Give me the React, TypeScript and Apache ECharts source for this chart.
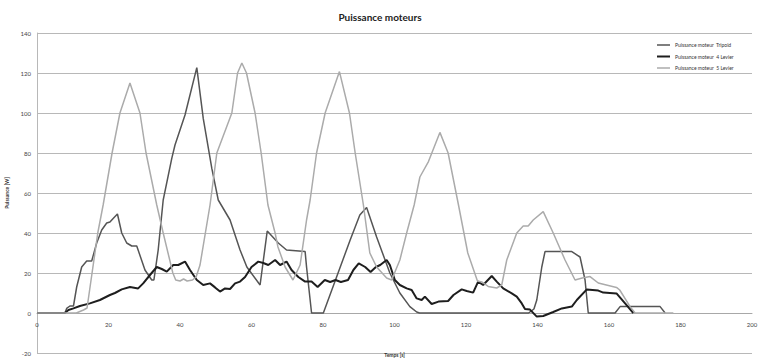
import React, { useEffect, useRef } from "react";
import * as echarts from "echarts";

const seriesNames = ["Puissance moteur  Tripoid", "Puissance moteur  4 Levier", "Puissance moteur  5 Levier"];

const tripoidX = [0, 7.8, 8.3, 9.2, 10.2, 11.1, 12.5, 13.9, 15.3, 16.7, 18.1, 19.5, 20.4, 21.3, 22.5, 23.7, 25.1, 26.5, 27.9, 30.2, 32.1, 32.7, 33.9, 35.3, 37.7, 38.6, 41.4, 44.7, 46.5, 48.9, 50.7, 54, 56.8, 58.7, 62.4, 64.4, 67.5, 69.8, 75, 75.4, 76.8, 80.1, 83.8, 87.6, 90.3, 92.2, 95, 98.7, 101.5, 104.3, 106.2, 107, 137.5, 139, 139.8, 141.2, 142.1, 149.6, 151.9, 153.3, 154.2, 161.7, 163.1, 174.3, 175.7];
const tripoidY = [0, 0, 2.3, 3.5, 3.5, 13, 23, 26, 26, 35, 41.5, 45, 45.5, 47.3, 49.5, 40, 35, 33.5, 33.5, 21.5, 16.5, 16.5, 31.5, 56.5, 77.3, 84, 99, 122.7, 97.3, 72.3, 56.5, 46.5, 31.5, 23, 14, 41, 35, 31.5, 30.7, 23, 0, 0, 18, 36.5, 49, 52.8, 38, 20, 10, 3.2, 0.5, 0, 0, 2, 6.5, 23, 30.7, 30.7, 28, 16.5, 0, 0, 3.2, 3.2, 0];

const levier4X = [0, 7.8, 8.8, 10.2, 12, 14.8, 17.6, 20.4, 21.8, 23.7, 26, 28.3, 29.7, 31.6, 33.5, 34.9, 36.3, 38.1, 39.5, 41.4, 42.8, 44.7, 46.5, 48.4, 49.8, 51.2, 52.6, 54, 55.4, 56.8, 58.2, 60, 61.9, 63.3, 64.7, 66.6, 68, 69.8, 71.2, 73.1, 75, 76.8, 78.5, 80.5, 82, 83.5, 85, 87, 88.5, 90, 91.8, 93.3, 94.8, 96, 97.8, 98.7, 100.1, 101.5, 103.4, 104.8, 106.2, 107.6, 108.5, 110.4, 112.3, 115, 116.5, 118.8, 120.2, 122, 123.4, 124.8, 127.2, 128.6, 130.4, 132.8, 134.2, 135.6, 136.5, 137.9, 139.8, 141.6, 144.4, 146.8, 149.6, 151, 153.8, 157, 158.4, 162.1, 164.5, 166.8];
const levier4Y = [0, 0, 1.5, 2.3, 3.5, 4.8, 6.5, 9, 10, 11.8, 13, 12.3, 14.8, 19, 23, 22, 20.7, 24, 24, 25.7, 21.5, 16.5, 14, 14.8, 12.8, 10.7, 12.3, 12, 14.8, 15.7, 18, 23, 25.7, 25, 24, 26.5, 24, 25.7, 21.5, 18, 15.7, 15.7, 13, 16.5, 15.5, 16.5, 15.5, 16.5, 21.5, 24.8, 23, 20.5, 23, 24, 26.5, 24, 16.5, 14, 12.3, 11.5, 7.3, 6.5, 8.2, 4.5, 5.7, 6, 9, 11.8, 11, 10.2, 15.7, 14, 18.5, 15.7, 12.3, 9.8, 8.2, 4.8, 2, 1.7, -1.8, -1.5, 0.5, 2.3, 3.2, 6.5, 11.8, 11.2, 10.2, 9.8, 4.8, 0];

const levier5X = [0, 11, 13, 14, 15.4, 17, 18.5, 21, 23.2, 26, 28.8, 30.5, 33.5, 35.3, 38, 38.8, 40, 41, 42, 43.5, 44.5, 45.6, 48.4, 50.3, 54.5, 56.1, 57.3, 58.6, 61, 62.7, 64.6, 66.6, 67.4, 69.4, 71.6, 73.6, 75.4, 76.4, 78.2, 80.6, 84.6, 87.4, 89, 91.3, 93.1, 95, 97.8, 99.2, 101.5, 103.4, 105.5, 107.1, 109.5, 112.7, 115, 117.9, 120.5, 123.2, 124.5, 126.2, 128.6, 130, 131.4, 134.2, 136, 137.4, 138.8, 141.6, 144.4, 147.7, 150.5, 152.5, 154.7, 157, 162.1, 163, 165.9, 167.3, 178];
const levier5Y = [0, 0, 1.5, 2.5, 20, 40, 54, 80, 100, 115, 100, 80, 54, 40, 20, 16.5, 16, 17, 16, 16.5, 18, 24, 54, 80, 100, 120, 125, 120, 100, 80, 54, 40, 33, 23, 16.5, 24, 46.5, 56.5, 80, 100, 120.7, 100, 80, 54, 30, 23, 17.5, 16.5, 26.5, 40, 54, 68, 75.7, 90.3, 80, 54, 30, 16, 15.5, 13.3, 12.5, 14, 26.5, 40, 43.5, 43.5, 46.5, 50.7, 40, 26.5, 16.5, 17.5, 18.2, 15, 12.8, 11.5, 3.2, 0, 0];

const zip = (xs: number[], ys: number[]) => xs.map((x, i) => [x, ys[i]]);

const FONT = "Lato";

export default function App() {
  const ref = useRef<HTMLDivElement>(null);
  useEffect(() => {
    if (!ref.current) return;
    const chart = echarts.init(ref.current, null, { renderer: "svg" });
    const colors = ["#555555", "#1e1e1e", "#ababab"];
    const widths = [1.5, 2, 1.5];
    const datas = [zip(tripoidX, tripoidY), zip(levier4X, levier4Y), zip(levier5X, levier5Y)];
    chart.setOption({
      animation: false,
      backgroundColor: "#ffffff",
      textStyle: { fontFamily: FONT },
      title: {
        text: "Puissance moteurs",
        left: "center",
        top: 7,
        textStyle: { fontFamily: FONT, fontSize: 10, fontWeight: "bold", color: "#222" },
      },
      legend: {
        orient: "vertical",
        left: 652,
        top: 37,
        itemWidth: 13,
        itemHeight: 6,
        itemGap: 5.5,
        textStyle: { fontFamily: FONT, fontSize: 5, color: "#333", lineHeight: 6 },
        data: seriesNames.map((name, i) => ({
          name,
          icon: `path://M0,0L26,0L26,${widths[i] * 2}L0,${widths[i] * 2}Z`,
          itemStyle: { color: colors[i] },
        })),
      },
      grid: { left: 37, right: 8, top: 33, bottom: 7, containLabel: false, outerBoundsMode: "none" },
      xAxis: {
        type: "value",
        min: 0,
        max: 200,
        interval: 20,
        offset: -40,
        name: "Temps [s]",
        nameLocation: "middle",
        nameGap: 39,
        nameTextStyle: { fontFamily: FONT, fontSize: 5, fontWeight: "bold", color: "#333" },
        axisLine: { onZero: false, lineStyle: { color: "#a8a8a8", width: 1 } },
        axisTick: { show: false },
        axisLabel: { fontFamily: FONT, fontSize: 6, color: "#444", margin: 8 },
        splitLine: { show: false },
      },
      yAxis: {
        type: "value",
        min: -20,
        max: 140,
        interval: 20,
        name: "Puissance [W]",
        nameLocation: "middle",
        nameRotate: 90,
        nameGap: 15,
        nameTextStyle: { fontFamily: FONT, fontSize: 5, fontWeight: "bold", color: "#333" },
        axisLine: { show: true, onZero: false, lineStyle: { color: "#b8b8b8", width: 1 } },
        axisTick: { show: false },
        axisLabel: { fontFamily: FONT, fontSize: 6, color: "#444", margin: 6 },
        splitLine: { show: true, lineStyle: { color: "#b8b8b8", width: 1, type: "solid" } },
      },
      series: seriesNames.map((name, i) => ({
        name,
        type: "line",
        data: datas[i],
        symbol: "none",
        showSymbol: false,
        color: colors[i],
        lineStyle: { color: colors[i], width: widths[i] },
        z: 2 + i,
      })),
    });
    return () => chart.dispose();
  }, []);
  return (
    <div
      ref={ref}
      style={{ position: "fixed", left: 0, top: 0, width: 760, height: 360, background: "#fff" }}
    />
  );
}
